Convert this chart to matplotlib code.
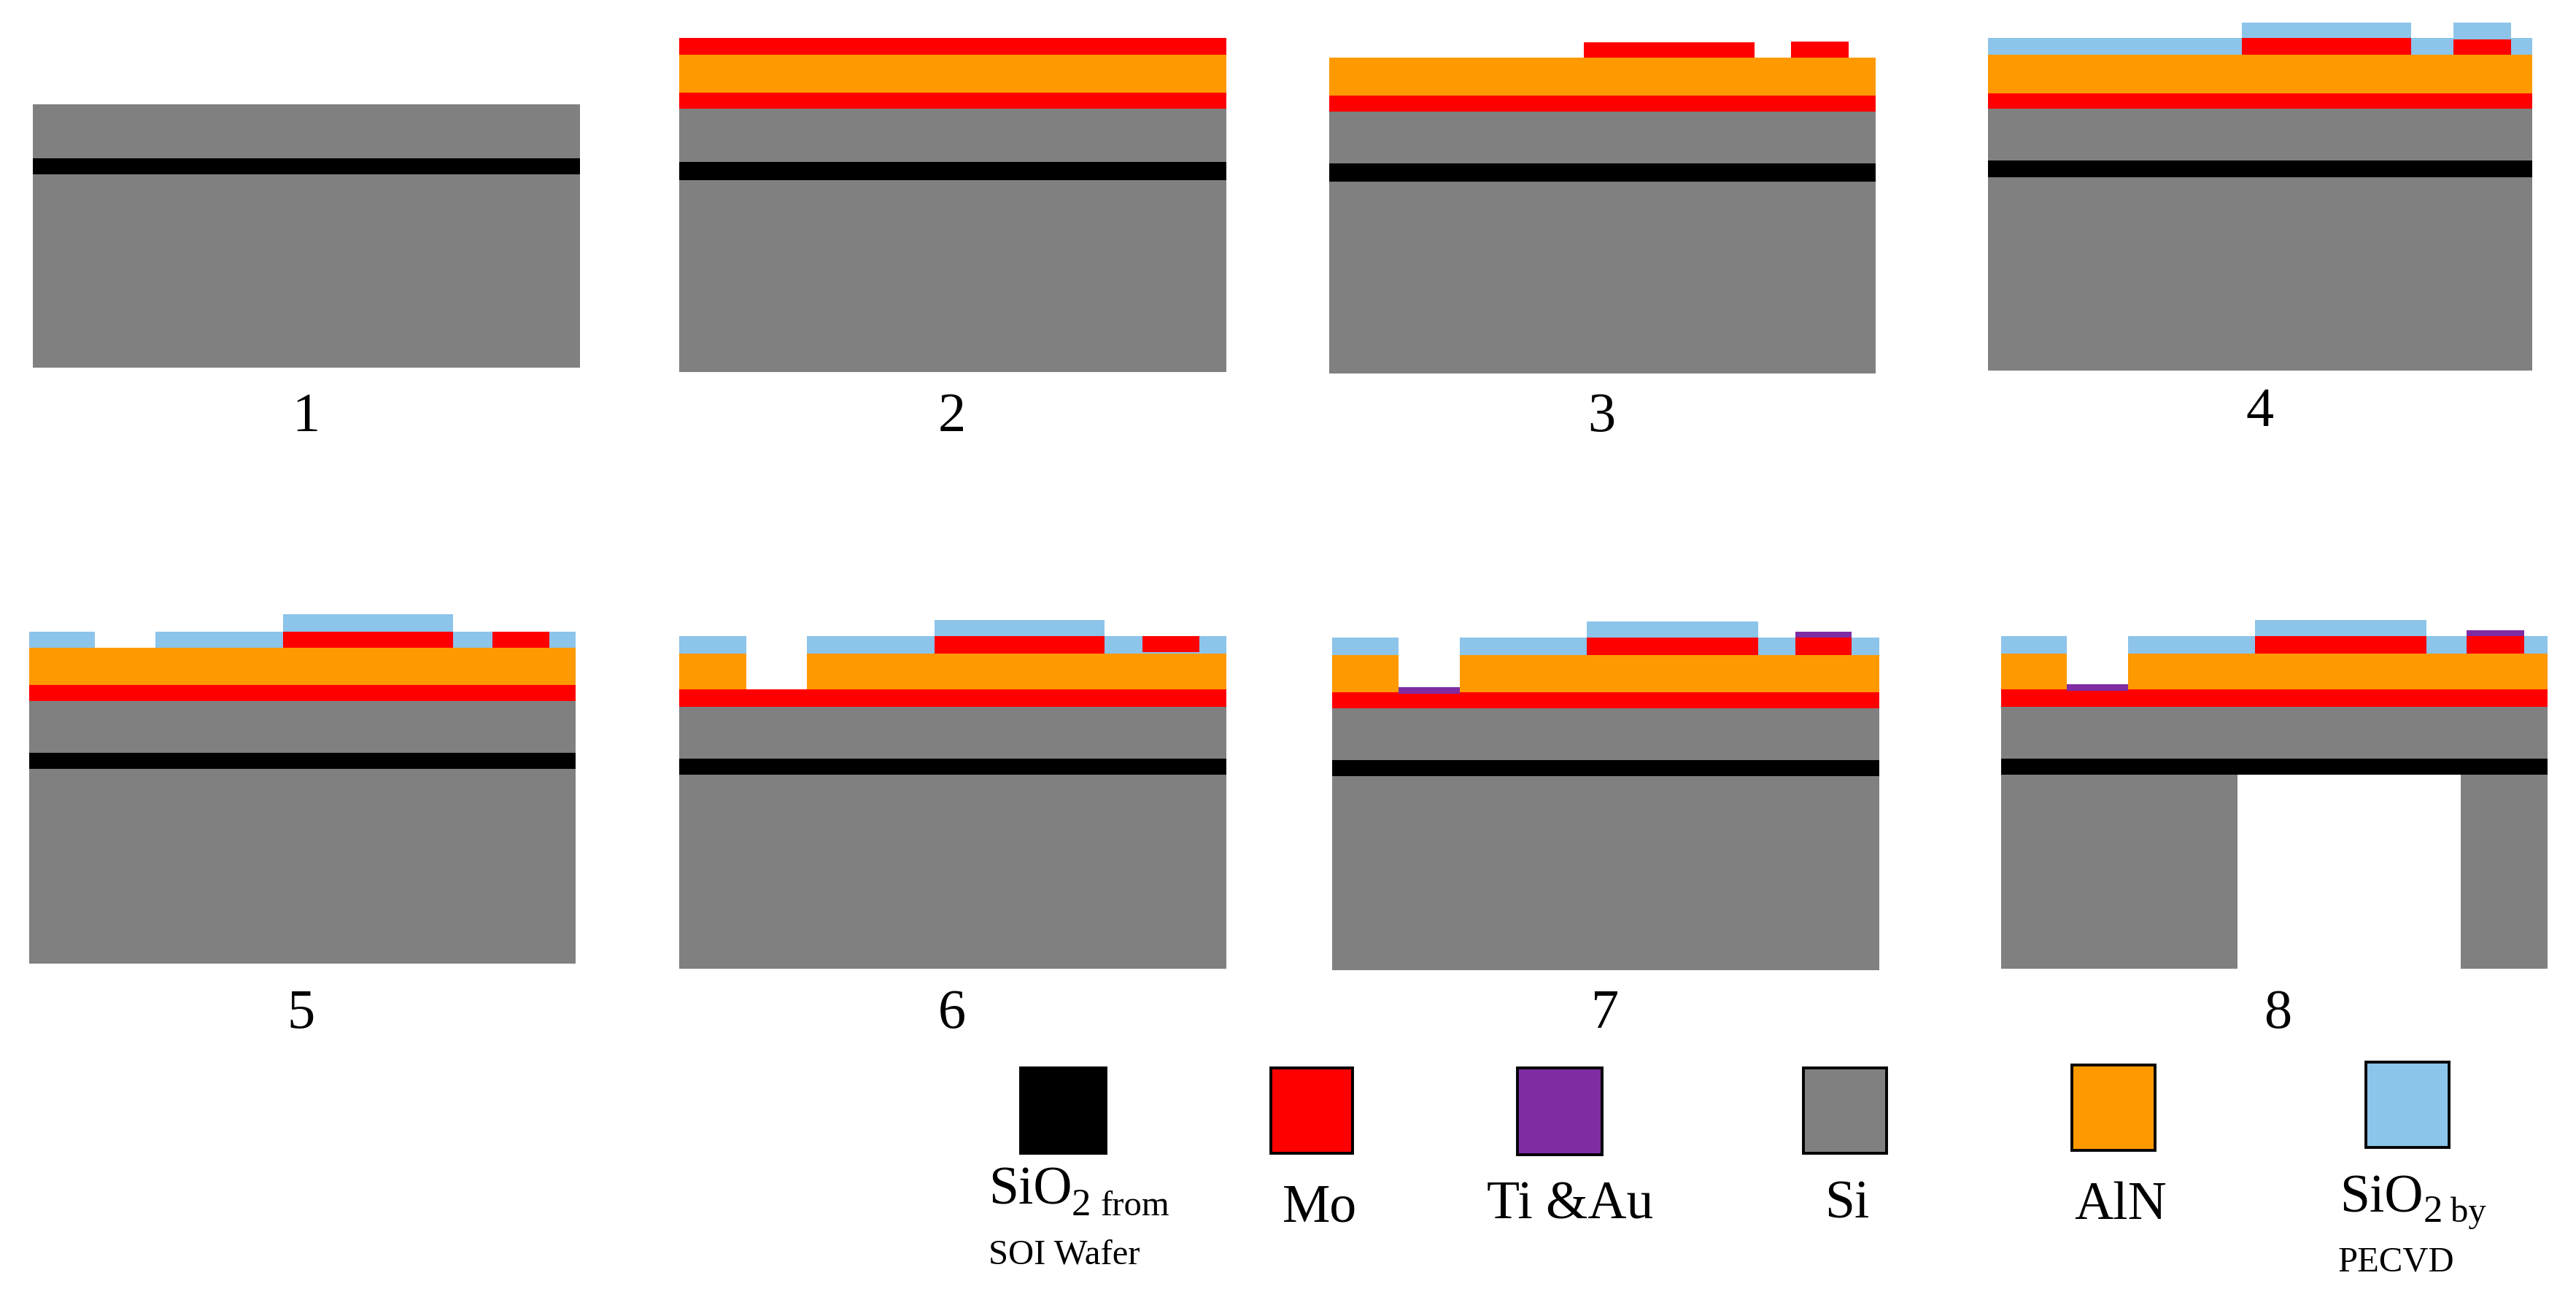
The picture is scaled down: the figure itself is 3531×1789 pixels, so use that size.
"""Process flow cross-sections of the AlN on SOI device, steps 1 to 8."""

import matplotlib

matplotlib.use("Agg")

import matplotlib.pyplot as plt

FIG_W = 3531
FIG_H = 1790

STEP_LABELS = ["1", "2", "3", "4", "5", "6", "7", "8"]

# layer thicknesses per step, bottom to top, 0 when the layer is not there yet
SI_HANDLE = [265, 263.5, 263, 265, 266.5, 266, 266, 266]
BOX_OXIDE = [22.5, 24.5, 25, 23.4, 22, 22, 22, 22]
SI_DEVICE = [73.5, 73, 71, 70.6, 71, 71, 71, 71]
MO_BOTTOM = [0, 22, 22, 21.5, 22, 24, 22, 24]
ALN = [0, 52, 52, 52.5, 51, 49, 51.5, 49]
MO_BLANKET = [0, 23.4, 0, 0, 0, 0, 0, 0]
PECVD_OXIDE = [0, 0, 0, 23.4, 22, 24, 23.5, 24]

WAFER_WIDTH = [750, 750, 749, 746, 749, 750, 750, 749]

# lateral features, distance from the left wafer edge, None when absent
ELECTRODE_MAIN = [None, None, (349, 583), (347.5, 580), (348, 581), (350, 583), (349, 584), (348, 583)]
ELECTRODE_SIDE = [None, None, (633, 712), (638, 717), (635, 713), (635, 713), (635.5, 712.5), (638, 717)]
ELECTRODE_MAIN_H = [0, 0, 21.5, 23.4, 22, 24, 23.5, 24]
ELECTRODE_SIDE_H = [0, 0, 22, 21.4, 22, 22, 23.5, 24]
ELECTRODE_SIDE_GAP = [0, 0, 0, 0, 0, 2, 0, 0]
OXIDE_CAP_H = [0, 0, 0, 20.6, 24, 22, 22, 22]
SIDE_CAP_H = [0, 0, 0, 22.6, 0, 0, 0, 0]
VIA = [None, None, None, None, (90, 173), (91.5, 174.6), (91.5, 175), (90.4, 174)]
VIA_THROUGH_ALN = [False, False, False, False, False, True, True, True]
TI_AU_PAD_H = [0, 0, 0, 0, 0, 0, 7, 7.5]
TI_AU_TOP_H = [0, 0, 0, 0, 0, 0, 8, 8]
CAVITY = [None, None, None, None, None, None, None, (324.4, 630.4)]

LEGEND_COLORS = ["#000000", "#FF0000", "#7F2CA2", "#808080", "#FF9900", "#8CC4EA"]

SI_COLOR = "#808080"
BOX_COLOR = "#000000"
MO_COLOR = "#FF0000"
ALN_COLOR = "#FF9900"
OXIDE_COLOR = "#8CC4EA"
TI_COLOR = "#7F2CA2"

# layout in image pixels: left edge and bottom edge of each wafer
PANEL_LEFT = [45, 931, 1822, 2725, 40, 931, 1825.5, 2742.6]
PANEL_BOTTOM = [505, 511, 513, 509, 1321.5, 1329, 1331, 1329]
LABEL_X = [419, 1305, 2195, 3098, 413, 1305, 2200, 3122]
LABEL_BASE = [591, 591, 591, 584, 1409, 1409, 1409, 1409]

SWATCH_X = [(1399, 1516), (1742, 1854), (2080, 2196), (2472, 2586), (2840, 2954), (3243, 3357)]
SWATCH_Y = [(1465, 1582), (1465, 1582), (1465, 1584), (1465, 1582), (1461, 1578), (1457, 1574)]

plt.rcParams["font.family"] = ["Liberation Serif", "DejaVu Serif"]


def rect(ax, span, bottom, height, color):
    ax.bar(span[0], height, width=span[1] - span[0], bottom=bottom,
           align="edge", color=color, linewidth=0)


def solid_spans(width, hole):
    if hole is None:
        return [(0, width)]
    return [(0, hole[0]), (hole[1], width)]


def draw_panel(fig, i):
    width = WAFER_WIDTH[i]
    ax = fig.add_axes([PANEL_LEFT[i] / FIG_W, 1 - PANEL_BOTTOM[i] / FIG_H,
                       width / FIG_W, 500 / FIG_H])
    ax.set_xlim(0, width)
    ax.set_ylim(0, 500)
    ax.set_axis_off()

    for span in solid_spans(width, CAVITY[i]):
        rect(ax, span, 0, SI_HANDLE[i], SI_COLOR)
    level = SI_HANDLE[i]
    rect(ax, (0, width), level, BOX_OXIDE[i], BOX_COLOR)
    level += BOX_OXIDE[i]
    rect(ax, (0, width), level, SI_DEVICE[i], SI_COLOR)
    level += SI_DEVICE[i]
    if MO_BOTTOM[i]:
        rect(ax, (0, width), level, MO_BOTTOM[i], MO_COLOR)
        level += MO_BOTTOM[i]
    mo_top = level

    if ALN[i]:
        hole = VIA[i] if VIA_THROUGH_ALN[i] else None
        for span in solid_spans(width, hole):
            rect(ax, span, level, ALN[i], ALN_COLOR)
        level += ALN[i]
    if MO_BLANKET[i]:
        rect(ax, (0, width), level, MO_BLANKET[i], MO_COLOR)
    if PECVD_OXIDE[i]:
        for span in solid_spans(width, VIA[i]):
            rect(ax, span, level, PECVD_OXIDE[i], OXIDE_COLOR)

    if ELECTRODE_MAIN[i]:
        rect(ax, ELECTRODE_MAIN[i], level, ELECTRODE_MAIN_H[i], MO_COLOR)
        side_base = level + ELECTRODE_SIDE_GAP[i]
        rect(ax, ELECTRODE_SIDE[i], side_base, ELECTRODE_SIDE_H[i], MO_COLOR)
        if OXIDE_CAP_H[i]:
            rect(ax, ELECTRODE_MAIN[i], level + ELECTRODE_MAIN_H[i],
                 OXIDE_CAP_H[i], OXIDE_COLOR)
        if SIDE_CAP_H[i]:
            rect(ax, ELECTRODE_SIDE[i], side_base + ELECTRODE_SIDE_H[i],
                 SIDE_CAP_H[i], OXIDE_COLOR)
        if TI_AU_TOP_H[i]:
            rect(ax, ELECTRODE_SIDE[i], side_base + ELECTRODE_SIDE_H[i],
                 TI_AU_TOP_H[i], TI_COLOR)
    if TI_AU_PAD_H[i]:
        rect(ax, VIA[i], mo_top - 1.5, TI_AU_PAD_H[i] + 1.5, TI_COLOR)


def main():
    fig = plt.figure(figsize=(FIG_W / 100, FIG_H / 100), dpi=100, facecolor="white")

    for i in range(len(STEP_LABELS)):
        draw_panel(fig, i)

    # labels and legend use one overlay in image pixels
    over = fig.add_axes([0, 0, 1, 1])
    over.set_xlim(0, FIG_W)
    over.set_ylim(FIG_H, 0)
    over.set_axis_off()

    for label, x, y in zip(STEP_LABELS, LABEL_X, LABEL_BASE):
        over.text(x, y, label, fontsize=55, ha="center", va="baseline")

    for color, xs, ys in zip(LEGEND_COLORS, SWATCH_X, SWATCH_Y):
        over.bar(xs[0], ys[1] - ys[0], width=xs[1] - xs[0], bottom=ys[0], align="edge",
                 color=color, edgecolor="black", linewidth=2.8)

    big = 53
    small = 35
    over.text(1355, 1651, "SiO", fontsize=big, va="baseline")
    over.text(1469, 1666, "2", fontsize=38, va="baseline")
    over.text(1508, 1666, "from", fontsize=small, va="baseline")
    over.text(1355, 1733, "SOI Wafer", fontsize=small, va="baseline")
    over.text(1758, 1675, "Mo", fontsize=big, va="baseline")
    over.text(2038, 1671, "Ti &Au", fontsize=big, va="baseline")
    over.text(2501, 1670, "Si", fontsize=big, va="baseline")
    over.text(2843, 1671, "AlN", fontsize=big, va="baseline")
    over.text(3207, 1662, "SiO", fontsize=big, va="baseline")
    over.text(3322, 1675, "2", fontsize=38, va="baseline")
    over.text(3359, 1675, "by", fontsize=small, va="baseline")
    over.text(3205, 1743, "PECVD", fontsize=small, va="baseline")

    fig.savefig("out.png", dpi=100, facecolor="white")
    plt.close(fig)


if __name__ == "__main__":
    main()
